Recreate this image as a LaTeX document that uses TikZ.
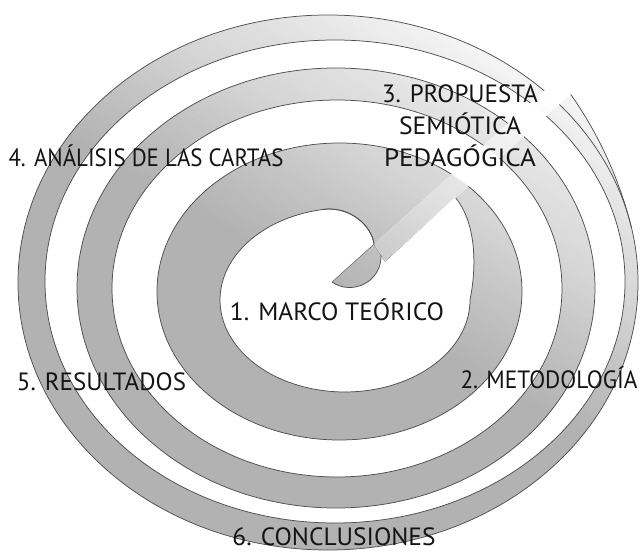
\documentclass[tikz,border=0pt]{standalone}
\usepackage{graphicx}
\usepackage{fontspec}
\setmainfont{PT Sans}
\definecolor{txt}{HTML}{141414}
\definecolor{edgec}{HTML}{505050}
\newcommand{\spiralstripes}[1]{%
 \begin{scope}[shift={(335,290)}, rotate=60]
 \foreach \s in {-420,-414,...,420}{%
   \pgfmathsetmacro\dd{\s+3}%
   \pgfmathsetmacro\g{min(1,#1+ifthenelse(\dd<0,0.70,ifthenelse(\dd<80,0.70+0.075*\dd/80,ifthenelse(\dd<130,0.775+0.055*(\dd-80)/50,ifthenelse(\dd<200,0.83+0.055*(\dd-130)/70,ifthenelse(\dd<250,0.885+0.045*(\dd-200)/50,ifthenelse(\dd<300,0.93+0.045*(\dd-250)/50,ifthenelse(\dd<330,0.975+0.015*(\dd-300)/30,0.99))))))))}%
   \definecolor{stc}{gray}{\g}%
   \fill[stc] (\s,-700) rectangle ++(7,1400);
 }
 \end{scope}}
% hole of the first turn (with its curl)
\def\holepath{(374,244.2) .. controls (372,226) and (350,206) .. (323.3,209.4)
 -- plot[domain=100:360, samples=110, variable=\t] ({345+125*cos(\t)}, {300-92*sin(\t)})
 .. controls (477,265) and (476,222) .. (455,197) -- (385,261.2) -- (381,255) -- cycle}
% tip of the spiral
\def\lenspath{(332,282) .. controls (352,296) and (382,282) .. (381,255) -- (374,244.2) -- cycle}
% outer tail of the last turn
\def\ppath{plot[domain=12:45, samples=40, variable=\t] ({328+310*(1+0.064*((\t-12)/33)^2)*cos(\t)}, {282.5-267.5*(1+0.064*((\t-12)/33)^2)*sin(\t)})}
\def\crescentpath{\ppath -- plot[domain=45:12, samples=40, variable=\t] ({328+310*cos(\t)}, {282.5-267.5*sin(\t)}) -- cycle}
\def\ringspath{(339.5,291.5) ellipse [x radius=182.5, y radius=148.5] \holepath \lenspath
 (337,288.5) ellipse [x radius=225, y radius=188.5] (336,288) ellipse [x radius=259, y radius=220]
 (335,281.5) ellipse [x radius=290, y radius=241.5] (328,282.5) ellipse [x radius=310, y radius=267.5]
 \crescentpath}
\def\stripbeam{(374,244.2) -- (566,71.3) -- (579.4,86.2) -- (385,261.2) -- (381,255) -- cycle}
\tikzset{
 bandedge/.style={draw=edgec, line width=0.75pt, line join=round},
 lbl/.style={font=\fontsize{25}{30}\selectfont, text=txt, inner sep=0pt, anchor=base}
}
\begin{document}
\begin{tikzpicture}[x=1pt, y=-1pt]
\useasboundingbox (0,0) rectangle (642,553);
\fill[white] (0,0) rectangle (642,553);
% grey rings with their light gradient
\begin{scope}[even odd rule]
 \clip \ringspath;
 \spiralstripes{0}
\end{scope}
% outlines
\draw[bandedge] (339.5,291.5) ellipse [x radius=182.5, y radius=148.5];
\draw[bandedge] (337,288.5) ellipse [x radius=225, y radius=188.5];
\draw[bandedge] (336,288) ellipse [x radius=259, y radius=220];
\draw[bandedge] (335,281.5) ellipse [x radius=290, y radius=241.5];
\draw[bandedge] (328,282.5) ellipse [x radius=310, y radius=267.5];
\draw[bandedge] \holepath;
\draw[bandedge] \ppath;
% light diagonal beam
\fill[white] \stripbeam;
\begin{scope}[even odd rule]
 \clip \ringspath;
 \clip \stripbeam;
 \spiralstripes{0.05}
\end{scope}
\draw[bandedge] (374,244.2) .. controls (372,226) and (350,206) .. (323.3,209.4);
\draw[bandedge] (332,282) .. controls (352,296) and (382,282) .. (381,255);
\draw[edgec, line width=0.4pt] (332,282) -- (374,244.2);
% labels
\node[lbl] (t3a) at (460,102.7) {\resizebox{156pt}{\height}{3. PROPUESTA}};
\node[lbl] (t3b) at (460,134.5) {\resizebox{122pt}{\height}{SEMIÓTICA}};
\node[lbl] (t3c) at (460,166.5) {\resizebox{152pt}{\height}{PEDAGÓGICA}};
\node[lbl] (t4) at (146,167) {\resizebox{275pt}{\height}{4. ANÁLISIS DE LAS CARTAS}};
\node[lbl] (t1) at (337,320.7) {\resizebox{214pt}{\height}{1. MARCO TEÓRICO}};
\node[lbl] (t5) at (101.5,390.7) {\resizebox{169pt}{\height}{5. RESULTADOS}};
\node[lbl] (t2) at (549,388.3) {\resizebox{177pt}{\height}{2. METODOLOGÍA}};
\node[lbl] (t6) at (334,545.5) {\resizebox{203pt}{\height}{6. CONCLUSIONES}};
\end{tikzpicture}
\end{document}
